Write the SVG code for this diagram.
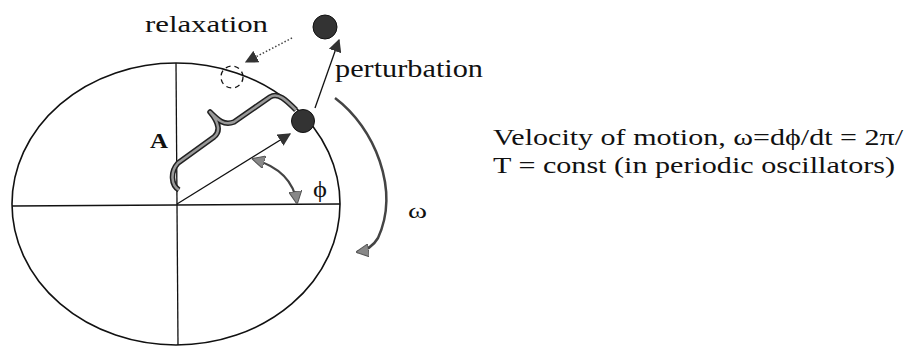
<svg xmlns="http://www.w3.org/2000/svg" width="909" height="347" viewBox="0 0 909 347">
<style>
.ln{fill:none;stroke:#111;stroke-width:1.6}
.thin{fill:none;stroke:#111;stroke-width:1.3}
text{font-family:"Liberation Serif","Times New Roman","DejaVu Serif",serif;fill:#111}
.dot{fill:#333;stroke:#111;stroke-width:1}
</style>
<defs>
<marker id="ah" viewBox="0 0 10 10" refX="9" refY="5" markerWidth="13" markerHeight="13" markerUnits="userSpaceOnUse" orient="auto-start-reverse">
<path d="M0,0 L10,5 L0,10 Z" fill="#333"/>
</marker>
<marker id="ahg" viewBox="0 0 10 10" refX="9" refY="5" markerWidth="13" markerHeight="13" markerUnits="userSpaceOnUse" orient="auto-start-reverse">
<path d="M0,0 L10,5 L0,10 Z" fill="#888" stroke="#555" stroke-width="0.8"/>
</marker>
</defs>
<rect width="909" height="347" fill="#fff"/>
<g id="oscillator">
<ellipse cx="176" cy="204" rx="164" ry="141" class="ln"/>
<line x1="176" y1="63" x2="178" y2="345" class="thin"/>
<line x1="12" y1="206" x2="340" y2="204" class="thin"/>
</g>
<g id="brace">
<path d="M179,190 C171,185 170,172 178,163 L214,137 C220,132 220,124 210,112 C218,120 224,126 234,122 L270,97 C278,92 286,100 296,110" fill="none" stroke="#222" stroke-width="5.5" stroke-linejoin="round"/>
<path d="M179,190 C171,185 170,172 178,163 L214,137 C220,132 220,124 210,112 C218,120 224,126 234,122 L270,97 C278,92 286,100 296,110" fill="none" stroke="#999" stroke-width="2.5" stroke-linejoin="round"/>
</g>
<g id="relaxed-state">
<circle cx="232" cy="77" r="11" fill="none" stroke="#111" stroke-width="1.3" stroke-dasharray="5,4"/>
</g>
<g id="state">
<circle cx="303" cy="121" r="11.5" class="dot"/>
</g>
<g id="perturbed-state">
<circle cx="325" cy="27" r="12" class="dot"/>
</g>
<g id="connectors">
<line x1="177" y1="204" x2="290" y2="134" class="thin" marker-end="url(#ah)"/>
<line x1="315" y1="108" x2="339" y2="40" class="thin" marker-end="url(#ah)"/>
<line x1="292" y1="38" x2="246" y2="62" fill="none" stroke="#444" stroke-width="1.5" stroke-dasharray="1.5,2" marker-end="url(#ah)"/>
<path d="M253,159 Q292,170 297,203" fill="none" stroke="#444" stroke-width="2.2" marker-start="url(#ahg)" marker-end="url(#ahg)"/>
<path d="M335,98 C375,128 400,190 378,238 Q371,250 357,252" fill="none" stroke="#444" stroke-width="2.5" marker-end="url(#ahg)"/>
</g>
<g id="labels">
<text x="145" y="32" font-size="24" textLength="123" lengthAdjust="spacingAndGlyphs">relaxation</text>
<text x="335" y="77" font-size="25" textLength="148" lengthAdjust="spacingAndGlyphs">perturbation</text>
<text x="150" y="148" font-size="22" font-weight="bold" textLength="18" lengthAdjust="spacingAndGlyphs">A</text>
<text x="313" y="197" font-size="24" textLength="14" lengthAdjust="spacingAndGlyphs">ϕ</text>
<text x="408" y="218" font-size="22" textLength="19" lengthAdjust="spacingAndGlyphs">ω</text>
<text x="493" y="145" font-size="23" textLength="410" lengthAdjust="spacingAndGlyphs">Velocity of motion, ω=dϕ/dt = 2π/</text>
<text x="493" y="173" font-size="23" textLength="402" lengthAdjust="spacingAndGlyphs">T = const (in periodic oscillators)</text>
</g>
</svg>
